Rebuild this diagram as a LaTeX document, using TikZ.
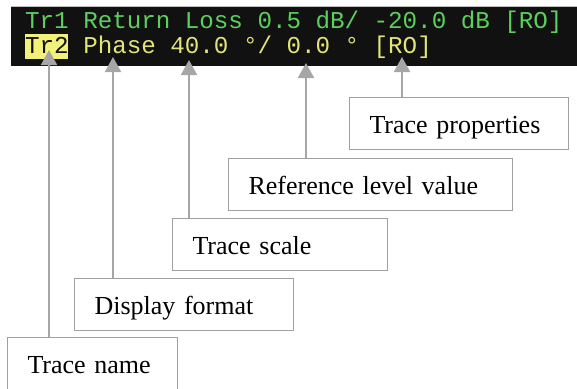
\documentclass[tikz,border=0pt]{standalone}
\usepackage{fontspec}
\setmainfont{Liberation Serif}
\newfontfamily\screenfont{Liberation Mono}
\usetikzlibrary{arrows.meta}

\definecolor{bandblack}{HTML}{111111}
\definecolor{trgreen}{HTML}{5CCF5C}
\definecolor{tryellow}{HTML}{E3E37A}
\definecolor{hlyellow}{HTML}{F2F27A}
\definecolor{arrowgray}{HTML}{A6A6A6}
\definecolor{boxgray}{HTML}{A0A0A0}

\begin{document}
\begin{tikzpicture}[x=1pt,y=-1pt,
    labelbox/.style={draw=boxgray, line width=1pt, anchor=north west, inner xsep=20pt,
      minimum height=52pt, text height=24pt, text depth=4pt, align=left,
      font=\fontsize{26}{30}\selectfont},
    pointer/.style={draw=arrowgray, line width=2pt, -{Triangle[length=15pt,width=16pt]}},
    traceline/.style={anchor=base west, inner sep=0pt, font=\screenfont\fontsize{24.2}{28}\selectfont}]
  \useasboundingbox (0,0) rectangle (577,388);

  % screen strip
  \fill[bandblack] (11,7) rectangle (577,66);
  \draw[black!25, line width=1pt] (11,6.5) -- (577,6.5);
  \fill[hlyellow] (25,34) rectangle (68,59);
  \node[traceline, text=trgreen] (line1) at (25,28) {Tr1 Return Loss 0.5 dB/ -20.0 dB [RO]};
  \node[traceline, text=tryellow] (line2) at (25,53) {{\color{bandblack}Tr2} Phase 40.0 °/ 0.0 ° [RO]};

  % callouts
  \node[labelbox, text width=130pt] (tname) at (7,337) {Trace name};
  \node[labelbox, text width=179pt] (dformat) at (74,278) {Display format};
  \node[labelbox, text width=175pt] (tscale) at (172,218) {Trace scale};
  \node[labelbox, text width=244pt] (reflevel) at (228,158) {Reference level value};
  \node[labelbox, text width=179pt] (tprops) at (349,97) {Trace properties};

  \coordinate (pname) at (49,50);
  \coordinate (pformat) at (113,57);
  \coordinate (pscale) at (189,60);
  \coordinate (plevel) at (306,63);
  \coordinate (pprops) at (402,57);

  \draw[pointer] (tname.north -| pname) -- (pname);
  \draw[pointer] (dformat.north -| pformat) -- (pformat);
  \draw[pointer] (tscale.north -| pscale) -- (pscale);
  \draw[pointer] (reflevel.north -| plevel) -- (plevel);
  \draw[pointer] (tprops.north -| pprops) -- (pprops);
\end{tikzpicture}
\end{document}
